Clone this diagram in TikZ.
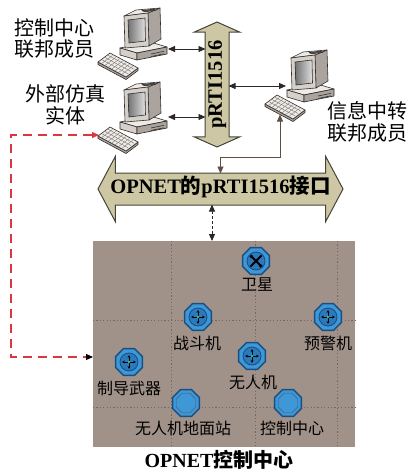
\documentclass[tikz,border=0pt]{standalone}
\usepackage{fontspec}
\setmainfont{Liberation Serif}
\newfontfamily\cjk{Noto Sans CJK SC}
\usetikzlibrary{arrows.meta,shapes.arrows,shapes.geometric,calc}

\definecolor{busfill}{RGB}{205,200,163}
\definecolor{busedge}{RGB}{70,68,60}
\definecolor{netfill}{RGB}{161,146,137}
\definecolor{netgrid}{RGB}{115,102,94}
\definecolor{linkcol}{RGB}{45,40,38}
\definecolor{feedcol}{RGB}{95,78,70}
\definecolor{redlink}{RGB}{218,55,65}
\definecolor{iconfill}{RGB}{62,152,214}
\definecolor{iconrim}{RGB}{24,78,132}
\definecolor{iconcore}{RGB}{42,122,188}
\definecolor{hubgreen}{RGB}{70,200,110}
\definecolor{pclight}{RGB}{238,234,230}
\definecolor{pcmid}{RGB}{214,208,203}
\definecolor{pcdark}{RGB}{170,163,158}
\definecolor{pcedge}{RGB}{50,46,44}

\tikzset{
  tipT/.tip={Triangle[length=7pt,width=6pt]},
  link/.style={draw=linkcol, line width=0.9pt, {tipT}-{tipT}},
  feedline/.style={draw=feedcol, line width=0.9pt, {tipT}-{tipT}},
  redline/.style={draw=redlink, line width=1.1pt, dash pattern=on 9pt off 6pt,
    {Triangle[length=7pt,width=6pt,color=redlink]}-{Triangle[length=7pt,width=6pt,color=black]}},
  bus/.style={double arrow, draw=busedge, fill=busfill, line width=1pt,
    inner xsep=0pt, text height=14pt, text depth=4.5pt},
  netgridline/.style={draw=netgrid, line width=0.7pt, dash pattern=on 1.2pt off 2.2pt},
  icon/.style={regular polygon, regular polygon sides=8, minimum size=29pt,
    inner sep=0pt, fill=iconfill, draw=iconrim, line width=1.4pt},
  lbl/.style={font=\cjk\fontsize{16}{18}\selectfont, inner sep=0pt},
  pclabel/.style={font=\cjk\fontsize{20}{21.5}\selectfont, align=center, inner sep=0pt},
  pe/.style={draw=pcedge, line width=0.6pt, line join=round},
  keyline/.style={draw=pcedge!70, line width=0.35pt},
  % desktop computer: case, CRT monitor and keyboard; #1 = height of the side ports
  pics/pc/.style={code={
    % system unit
    \filldraw[pe, fill=pclight] (0,40) -- (30,34) -- (47,39) -- (17,45) -- cycle;
    \filldraw[pe, fill=pcmid] (0,40) -- (17,45) -- (17,52) -- (0,47) -- cycle;
    \filldraw[pe, fill=pcdark] (17,45) -- (47,39) -- (47,46) -- (17,52) -- cycle;
    \draw[pe] (31,46) -- (44,43.3) (31,48.5) -- (44,45.8);
    % monitor
    \filldraw[pe, fill=pcdark] (28,5) -- (40,0) -- (41,31) -- (29,38) -- cycle;
    \filldraw[pe, fill=pclight] (4,8) -- (16,2) -- (40,0) -- (28,5) -- cycle;
    \filldraw[pe, fill=pcedge!80] (22,2.6) -- (33,1.2) -- (36,2.2) -- (25,3.8) -- cycle;
    \filldraw[pe, fill=pcmid] (4,8) -- (28,5) -- (29,38) -- (5,40) -- cycle;
    \shade[left color=black!55, right color=black!12] (8,12) -- (25,10) -- (25.5,33) -- (9,35) -- cycle;
    \draw[pe] (8,12) -- (25,10) -- (25.5,33) -- (9,35) -- cycle;
    % keyboard
    \filldraw[pe, fill=pcdark] (-22,54) -- (6,69) -- (18,60) -- (18,62.5) -- (6,71.5) -- (-22,56.5) -- cycle;
    \filldraw[pe, fill=pclight] (-22,54) -- (-10,45) -- (18,60) -- (6,69) -- cycle;
    \foreach \t in {0.25,0.5,0.75}
      \draw[keyline] ({-21+12*\t},{54-9*\t}) -- ++(26,14);
    \foreach \s in {0.12,0.24,...,0.9}
      \draw[keyline] ({-22+28*\s},{54+15*\s}) -- ++(11,-8.2);
    % connection points
    \coordinate (-e) at (48,#1);
    \coordinate (-w) at (-1,#1);
    \coordinate (-kb) at (-7,64.5);
    \coordinate (-kbw) at (-21,53);
  }},
  pics/hub/.style={code={
    \filldraw[draw=iconrim, fill=iconcore, line width=0.8pt] (0,0) circle[radius=9];
    \foreach \a in {0,90,180,270}
      \draw[line width=0.7pt, -{Stealth[length=2.6pt,width=2.6pt]}] (0,0) -- (\a:6.8);
    \fill[hubgreen] (0,0) circle[radius=1.3];
  }},
  pics/sat/.style={code={
    \filldraw[draw=iconrim, fill=iconcore, line width=0.8pt] (0,0) circle[radius=9];
    \draw[line width=2pt] (-5.5,-5.5) -- (5.5,5.5) (-5.5,5.5) -- (5.5,-5.5);
    \fill[black] (-6.5,-4.5) -- (-4.5,-6.5) -- (-3,-5) -- (-5,-3) -- cycle;
    \fill[black] (6.5,4.5) -- (4.5,6.5) -- (3,5) -- (5,3) -- cycle;
  }},
  pics/plain/.style={code={
    \node[regular polygon, regular polygon sides=8, minimum size=21pt, inner sep=0pt,
      fill=iconfill, draw=iconrim!80, line width=0.8pt] at (0,0) {};
  }},
}

\begin{document}
\begin{tikzpicture}[x=1pt,y=-1pt]
\useasboundingbox (0,0) rectangle (411,471);

% ---- OPNET control centre area ----
\node[fill=netfill, minimum width=262pt, minimum height=206pt, inner sep=0pt,
      anchor=north west] (net) at (93,241) {};
\foreach \x in {171,255,337}
  \draw[netgridline] (\x,241) -- (\x,447);
\foreach \y in {320,407}
  \draw[netgridline] (93,\y) -- (355,\y);

\node[icon] (sat) at (256,261) {};  \pic at (sat) {sat};
\node[icon] (ftr) at (198,317) {};  \pic at (ftr) {hub};
\node[icon] (awc) at (328,317) {};  \pic at (awc) {hub};
\node[icon] (uav) at (252,356) {};  \pic at (uav) {hub};
\node[icon] (wpn) at (129,362) {};  \pic at (wpn) {hub};
\node[icon] (gcs) at (186,403) {};  \pic at (gcs) {plain};
\node[icon] (ctl) at (288,403) {};  \pic at (ctl) {plain};

\node[lbl] (satL) at (257,285) {卫星};
\node[lbl] (ftrL) at (197,343) {战斗机};
\node[lbl] (awcL) at (328,343) {预警机};
\node[lbl] (uavL) at (253,382) {无人机};
\node[lbl] (wpnL) at (129,388) {制导武器};
\node[lbl] (gcsL) at (183,428) {无人机地面站};
\node[lbl] (ctlL) at (292,428) {控制中心};

\node[inner sep=0pt, font=\bfseries\fontsize{20}{22}\selectfont] (netL) at (219,460)
  {OPNET{\cjk 控制中心}};

% ---- RTI buses ----
\node[bus, rotate=90, minimum height=125pt, double arrow head extend=11pt,
      double arrow tip angle=132, inner ysep=2.25pt,
      font=\bfseries\fontsize{20.5}{22}\selectfont] (rti) at (217,84.5) {pRTI1516};
\node[bus, minimum height=245pt, double arrow head extend=16.5pt,
      double arrow tip angle=124, inner ysep=6.25pt,
      font=\bfseries\fontsize{20.5}{22}\selectfont] (opnet) at (220.5,189)
  {\makebox[205pt][c]{OPNET{\cjk 的}pRTI1516{\cjk 接口}}};

% ---- federates ----
\pic (pcA) at (120,8) {pc=41};
\pic (pcB) at (120,82) {pc=35};
\pic (pcC) at (287,50) {pc=36};

\node[pclabel] (pcAL) at (54.5,38.5) {控制中心\\联邦成员};
\node[pclabel] (pcBL) at (65,105) {外部仿真\\实体};
\node[pclabel] (pcCL) at (367,122) {信息中转\\联邦成员};

% ---- connectors ----
\draw[link, shorten >=11.5pt] (pcA-e) -- (pcA-e -| rti.center);
\draw[link, shorten >=11.5pt] (pcB-e) -- (pcB-e -| rti.center);
\draw[link, shorten <=11.5pt] (rti.center |- pcC-w) -- (pcC-w);
\draw[feedline, shorten >=15.5pt] (pcC-kb) -- ++(0,43) -| (opnet.center);

\coordinate (tap) at ($(opnet.center)+(-8.5,0)$);
\draw[link, dash pattern=on 3pt off 2pt, shorten <=15.5pt] (tap) -- (tap |- net.north);

\coordinate (redknee) at (11,357);
\draw[redline] (pcB-kbw) -| (redknee) -- (redknee -| net.west);
\end{tikzpicture}
\end{document}
